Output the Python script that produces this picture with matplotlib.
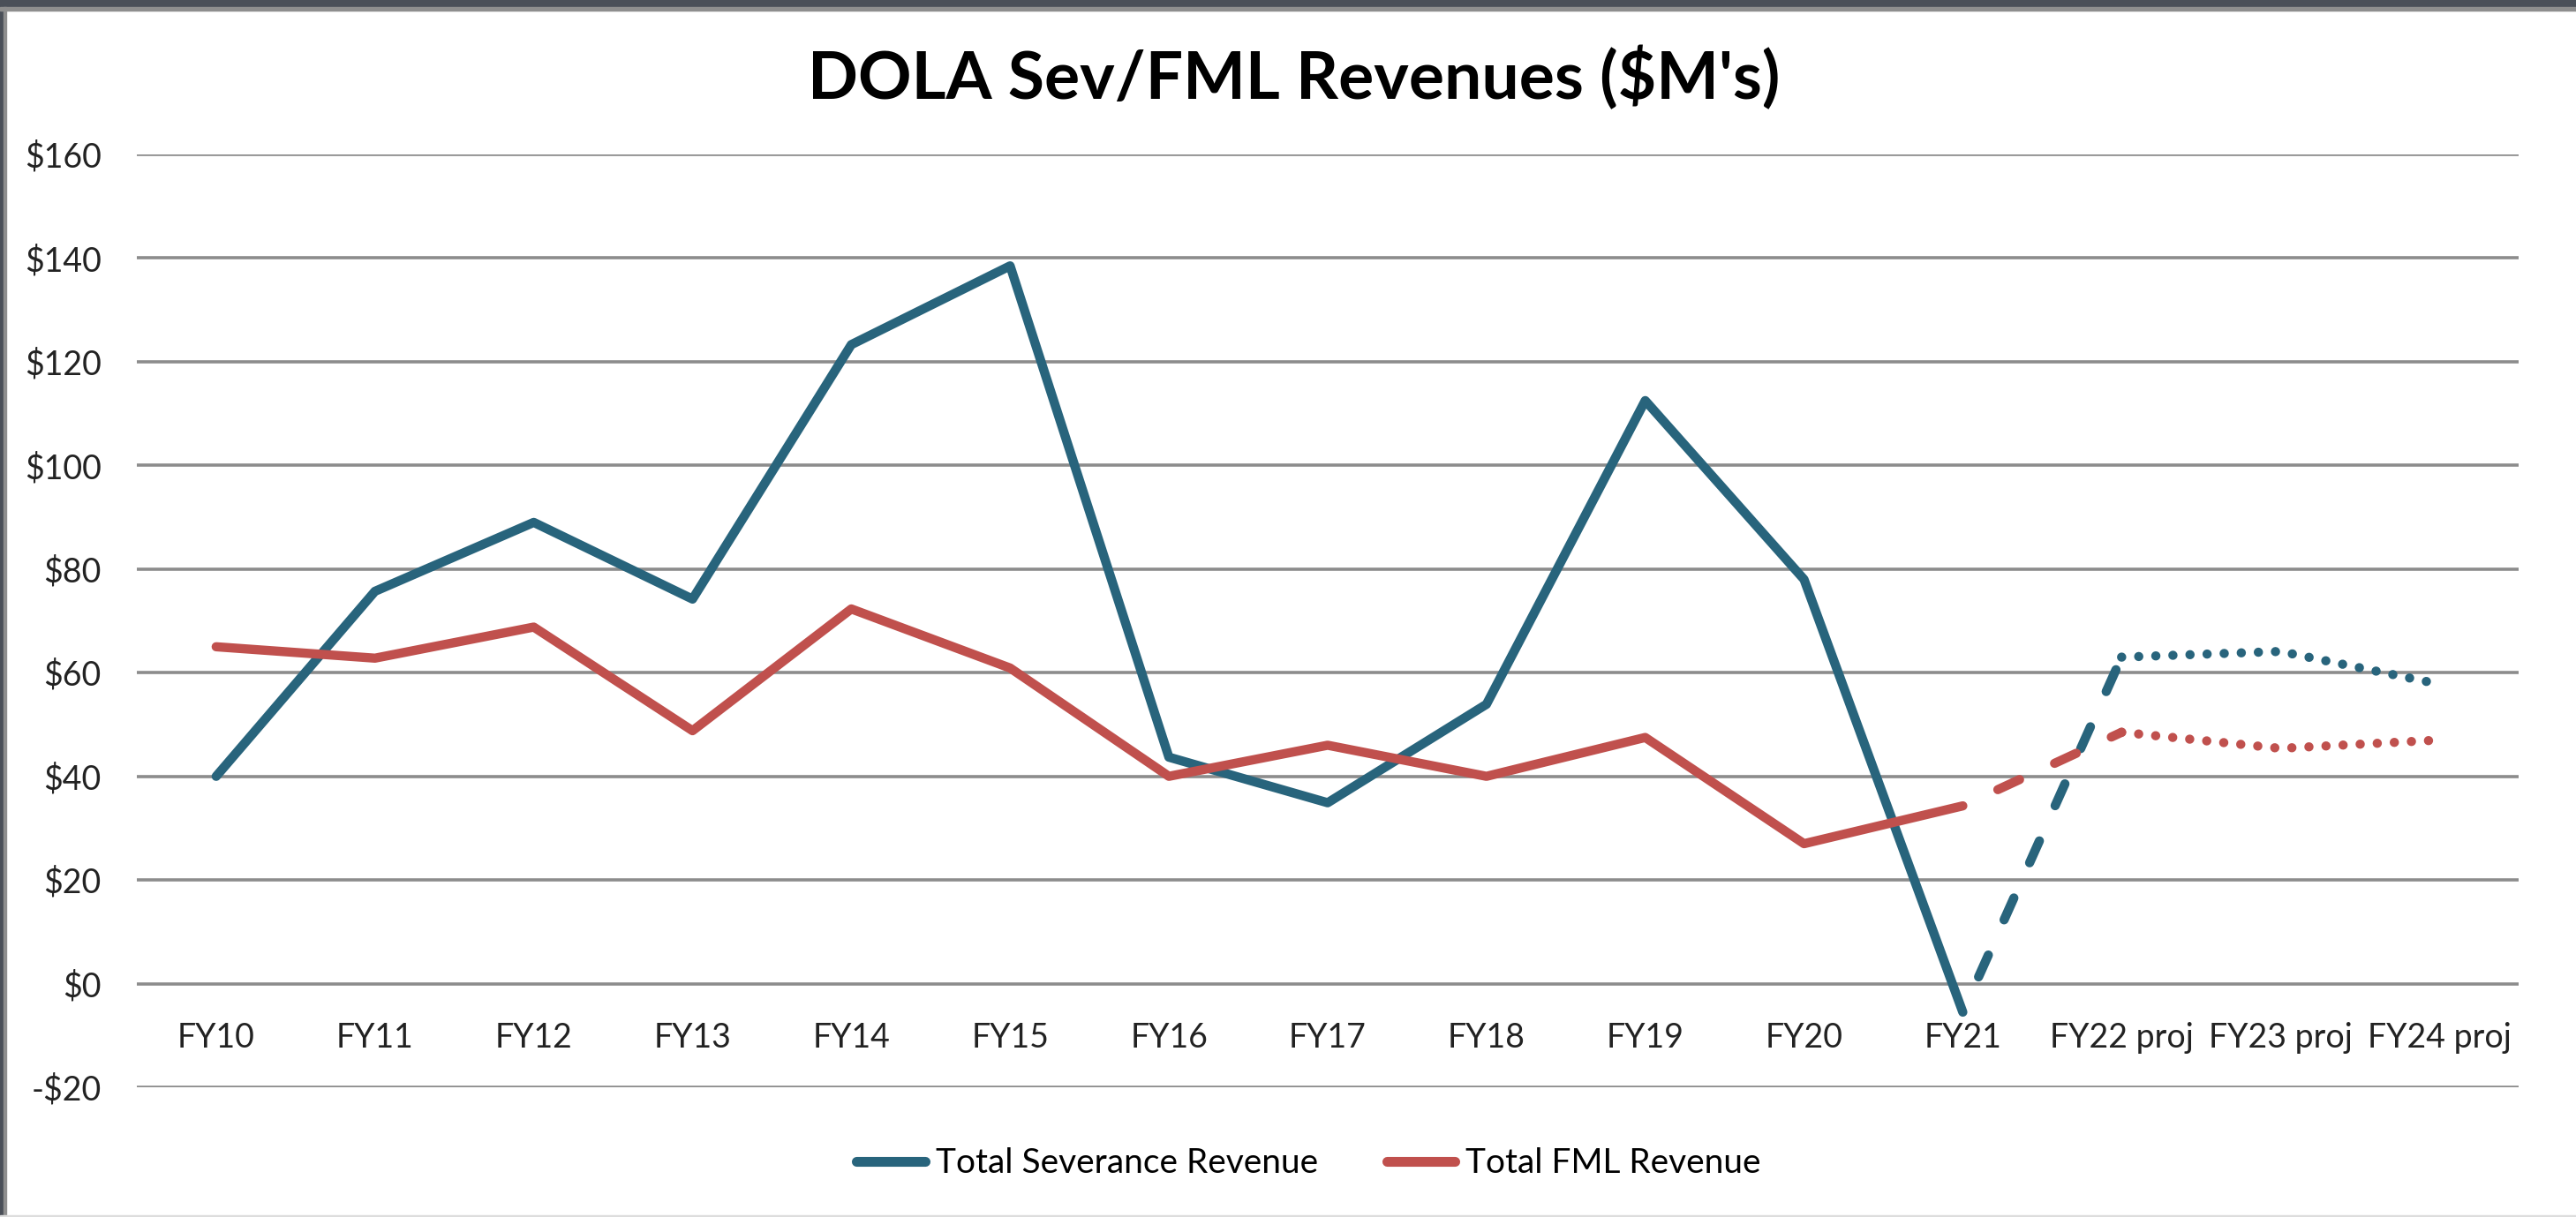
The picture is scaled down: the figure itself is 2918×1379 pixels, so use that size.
import numpy as np
import matplotlib
matplotlib.use("Agg")
import matplotlib.pyplot as plt
from matplotlib.patches import Rectangle

years = ["FY10", "FY11", "FY12", "FY13", "FY14", "FY15", "FY16", "FY17",
         "FY18", "FY19", "FY20", "FY21", "FY22 proj", "FY23 proj", "FY24 proj"]
severance = [40, 75.7, 89, 74.2, 123.3, 138.5, 43.7, 34.9, 53.9, 112.5, 78, -5.5,
             63, 64.1, 57.8]
fml = [65, 62.8, 68.8, 48.8, 72.3, 60.9, 40, 46, 40, 47.5, 27, 34.3,
       48.5, 45.4, 47]
yticks = [-20, 0, 20, 40, 60, 80, 100, 120, 140, 160]

sevColor = "#28647c"
fmlColor = "#c0504d"
lastActual = years.index("FY21")
firstProj = years.index("FY22 proj")
fontList = ["Lato", "DejaVu Sans"]

fig = plt.figure(figsize=(29.18, 13.79), dpi=100)
fig.patch.set_facecolor("white")
ax = fig.add_axes([0.0531, 0.1066, 0.9246, 0.7665])

x = np.arange(len(years))
lw = 7.5
for vals, color, label in [(severance, sevColor, "Total Severance Revenue"),
                           (fml, fmlColor, "Total FML Revenue")]:
    vals = np.array(vals)
    ax.plot(x[:lastActual + 1], vals[:lastActual + 1], color=color, lw=lw,
            solid_joinstyle="round", solid_capstyle="round", label=label, zorder=3)
    # FY21 -> FY22 transition is dashed, projections are dotted
    ax.plot(x[lastActual:firstProj + 1], vals[lastActual:firstProj + 1], color=color,
            lw=lw, linestyle=(2.6, (2.6, 4.2)), dash_capstyle="round", zorder=3)
    ax.plot(x[firstProj:], vals[firstProj:], color=color, lw=lw,
            dashes=(0.01, 1.85), dash_capstyle="round", zorder=3)

ax.set_xlim(-0.5, len(years) - 0.5)
ax.set_ylim(-20, 160)
ax.set_yticks(yticks)
ax.set_yticklabels([("-$%d" % -v) if v < 0 else ("$%d" % v) for v in yticks])
ax.set_xticks(x)
ax.set_xticklabels(years)
ax.grid(axis="y", color="#8c8c8c", lw=2.6)
ax.set_axisbelow(True)
for s in ["top", "right", "left"]:
    ax.spines[s].set_visible(False)
ax.spines["bottom"].set_position(("data", 0))
ax.spines["bottom"].set_visible(False)
ax.tick_params(axis="both", length=0, labelsize=27, colors="#222222")
ax.tick_params(axis="x", pad=31)
ax.tick_params(axis="y", pad=29)
for t in ax.get_xticklabels() + ax.get_yticklabels():
    t.set_fontfamily(fontList)

fig.text(0.5024, 0.936, "DOLA Sev/FML Revenues ($M's)", ha="center", va="center",
         fontsize=54, fontweight="bold", family=fontList)

leg = fig.legend(loc="center", bbox_to_anchor=(0.508, 0.044), ncol=2, frameon=False,
                 prop={"family": fontList, "size": 28},
                 handlelength=2.0, handletextpad=0.3, columnspacing=2.0)
for h in leg.get_lines():
    h.set_linewidth(8)
    h.set_solid_capstyle("round")

# frame around the slide crop
fig.patches.append(Rectangle((0, 0.9942), 1, 0.0058, transform=fig.transFigure,
                             color="#4a4f58", zorder=0))
fig.patches.append(Rectangle((0, 0), 0.0015, 1, transform=fig.transFigure,
                             color="#4a4f58", zorder=0))
fig.patches.append(Rectangle((0, 0.9913), 1, 0.003, transform=fig.transFigure,
                             color="#8e8e8e", zorder=0))
fig.patches.append(Rectangle((0.0015, 0), 0.001, 0.9942, transform=fig.transFigure,
                             color="#8e8e8e", zorder=0))
fig.patches.append(Rectangle((0, 0), 1, 0.0015, transform=fig.transFigure,
                             color="#dddddd", zorder=0))

fig.savefig("out.png", dpi=100)
